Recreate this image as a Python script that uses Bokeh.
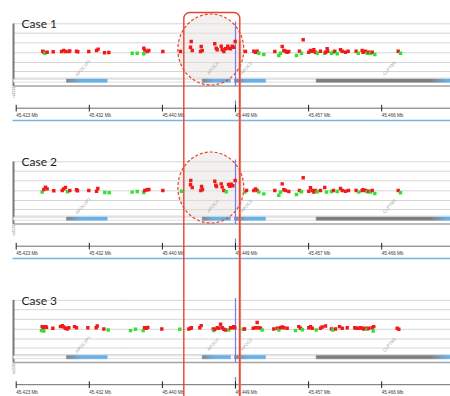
import numpy as np
from bokeh.plotting import figure
from bokeh.models import Range1d, ColumnDataSource
from bokeh.core.properties import value
from bokeh.embed import file_html
from bokeh.resources import INLINE

# ---------------- data ----------------
case_titles = ["Case 1", "Case 2", "Case 3"]

tick_pos = [45.4230, 45.4315, 45.4400, 45.4485, 45.4570, 45.4655]
tick_labels = ["45.423 Mb", "45.432 Mb", "45.440 Mb", "45.449 Mb", "45.457 Mb", "45.466 Mb"]

gene_names = ["APOC1P1", "APOC4", "APOC2", "CLPTM1", ""]
gene_start = [45.42885, 45.44463, 45.44839, 45.45788, 45.47141]
gene_end = [45.43358, 45.44792, 45.45199, 45.47141, 45.48000]
gene_kind = ["blue", "blue", "blue", "gray", "blue"]
gene_label_x = [45.43077, 45.44588, 45.44978, 45.46641, None]

highlight_region = [45.44249, 45.44900]
cursor_pos = 45.4485
focus_center = 45.44563
focus_span = 0.00767

case1_pos = [45.42609, 45.42621, 45.42633, 45.42660, 45.42730, 45.42827, 45.42853, 45.42873, 45.42912, 45.42923,
             45.43001, 45.43016, 45.43144, 45.43234, 45.43253, 45.43327, 45.43377, 45.43649, 45.43707, 45.43784,
             45.43784, 45.43795, 45.43823, 45.43842, 45.44005, 45.44210, 45.44335, 45.44327, 45.44347, 45.44451,
             45.44463, 45.44443, 45.44609, 45.44626, 45.44637, 45.44684, 45.44695, 45.44714, 45.44734, 45.44760,
             45.44772, 45.44792, 45.44812, 45.44830, 45.44846, 45.44966, 45.45063, 45.45083, 45.45102, 45.45121,
             45.45179, 45.45307, 45.45354, 45.45373, 45.45393, 45.45412, 45.45431, 45.45451, 45.45470, 45.45559,
             45.45594, 45.45617, 45.45637, 45.45702, 45.45722, 45.45742, 45.45761, 45.45780, 45.45800, 45.45838,
             45.45888, 45.45897, 45.45916, 45.45923, 45.45966, 45.45986, 45.46005, 45.46033, 45.46071, 45.46091,
             45.46129, 45.46160, 45.46253, 45.46277, 45.46323, 45.46335, 45.46362, 45.46381, 45.46400, 45.46420,
             45.46440, 45.46470, 45.46742, 45.46769]
case1_score = [3.16, 3.06, 2.96, 3.06, 3.10, 3.13, 3.23, 3.13, 3.13, 3.20,
               3.16, 3.10, 3.13, 3.23, 3.37, 3.00, 3.03, 2.96, 2.96, 2.90,
               3.47, 3.27, 3.13, 3.23, 3.13, 3.13, 4.15, 3.57, 3.23, 3.64,
               3.23, 3.13, 3.92, 3.47, 3.31, 3.67, 3.31, 3.13, 3.41, 3.67,
               3.47, 3.41, 3.67, 3.57, 4.15, 3.13, 3.16, 3.06, 3.16, 2.96,
               2.83, 3.13, 2.72, 2.96, 3.64, 3.23, 3.16, 3.06, 3.13, 2.72,
               3.16, 2.96, 4.33, 3.06, 3.23, 3.16, 3.31, 3.06, 2.96, 3.16,
               2.96, 3.06, 3.41, 3.16, 2.96, 3.06, 3.16, 2.90, 3.31, 3.16,
               3.06, 3.16, 3.16, 2.96, 3.23, 3.06, 3.16, 2.96, 3.06, 2.96,
               3.06, 2.83, 3.16, 2.96]
case1_allele = ("RRGRRRRRRR" "RRRRRRRGGG" "RRRRRRRRRR" "RRRRRRRRRR"
                "RRRRRRRRRG" "GRGGRRRRRG" "RGRRRRRRGR" "GRRRGGRGRR"
                "RRRGRRRGRG" "RGRG")

case2_pos = [45.42602, 45.42621, 45.42641, 45.42660, 45.42737, 45.42835, 45.42853, 45.42873, 45.42897, 45.42923,
             45.43001, 45.43013, 45.43144, 45.43234, 45.43249, 45.43330, 45.43381, 45.43649, 45.43707, 45.43784,
             45.43795, 45.43823, 45.43842, 45.44005, 45.44222, 45.44330, 45.44327, 45.44347, 45.44455, 45.44466,
             45.44447, 45.44609, 45.44621, 45.44629, 45.44684, 45.44695, 45.44714, 45.44742, 45.44769, 45.44784,
             45.44800, 45.44819, 45.44846, 45.44958, 45.44978, 45.45063, 45.45083, 45.45102, 45.45121, 45.45179,
             45.45307, 45.45354, 45.45373, 45.45393, 45.45412, 45.45431, 45.45470, 45.45559, 45.45594, 45.45617,
             45.45637, 45.45702, 45.45722, 45.45742, 45.45761, 45.45780, 45.45800, 45.45838, 45.45888, 45.45908,
             45.45966, 45.45990, 45.46033, 45.46071, 45.46091, 45.46129, 45.46164, 45.46253, 45.46284, 45.46323,
             45.46335, 45.46362, 45.46381, 45.46400, 45.46420, 45.46440, 45.46470, 45.46742, 45.46769]
case2_score = [2.86, 3.13, 3.37, 3.20, 3.00, 3.03, 3.20, 3.34, 2.90, 3.03,
               3.10, 3.00, 3.03, 2.96, 3.23, 2.83, 2.80, 2.86, 2.93, 2.83,
               3.03, 3.10, 3.13, 3.03, 2.96, 4.05, 3.61, 3.34, 3.44, 3.13,
               3.03, 3.98, 3.57, 3.44, 3.71, 3.37, 3.03, 2.90, 3.64, 3.47,
               3.67, 3.51, 4.05, 2.86, 3.03, 3.03, 3.20, 3.03, 2.86, 2.69,
               3.03, 2.54, 2.86, 3.71, 3.10, 3.03, 2.93, 2.62, 3.03, 2.90,
               4.33, 2.96, 3.31, 3.03, 2.86, 3.03, 2.90, 3.03, 3.34, 2.86,
               2.93, 3.03, 2.93, 3.23, 3.03, 2.96, 3.03, 3.03, 2.86, 3.03,
               3.10, 3.03, 2.90, 2.96, 2.86, 3.03, 2.73, 3.03, 2.80]
case2_allele = ("GRRRRRRRGR" "RRRRRGGGGG" "RRRRGRRRRR" "RRRRRRRGRR"
                "RRRGRRRRGG" "RGGRRRRGRG" "RRRRRRGRRG" "GRGRRRRRGR"
                "RRGRGRGRG")

case3_pos = [45.42594, 45.42602, 45.42614, 45.42621, 45.42641, 45.42652, 45.42726, 45.42815, 45.42835, 45.42853,
             45.42873, 45.42893, 45.42912, 45.42978, 45.43001, 45.43133, 45.43230, 45.43242, 45.43319, 45.43370,
             45.43629, 45.43687, 45.43777, 45.43792, 45.43812, 45.43830, 45.43993, 45.44202, 45.44307, 45.44327,
             45.44338, 45.44435, 45.44451, 45.44591, 45.44598, 45.44609, 45.44637, 45.44656, 45.44676, 45.44695,
             45.44714, 45.44734, 45.44772, 45.44792, 45.44812, 45.44830, 45.44842, 45.44940, 45.44955, 45.45056,
             45.45083, 45.45102, 45.45121, 45.45141, 45.45160, 45.45295, 45.45335, 45.45354, 45.45373, 45.45393,
             45.45412, 45.45451, 45.45548, 45.45586, 45.45606, 45.45626, 45.45702, 45.45722, 45.45742, 45.45788,
             45.45838, 45.45858, 45.45897, 45.45966, 45.45981, 45.46013, 45.46059, 45.46091, 45.46149, 45.46237,
             45.46253, 45.46277, 45.46304, 45.46323, 45.46342, 45.46362, 45.46381, 45.46400, 45.46440, 45.46458,
             45.46451, 45.46730, 45.46749]
case3_score = [2.86, 3.27, 3.16, 2.83, 3.27, 3.20, 3.10, 3.27, 3.37, 3.23,
               3.10, 3.03, 3.16, 3.27, 3.16, 3.16, 3.16, 3.34, 3.03, 2.93,
               2.86, 3.00, 2.86, 3.16, 3.10, 3.20, 3.03, 3.00, 3.03, 3.10,
               3.16, 3.16, 3.37, 3.03, 2.86, 3.00, 3.16, 3.10, 3.51, 3.16,
               3.00, 2.93, 2.93, 3.16, 3.16, 3.27, 3.16, 3.00, 3.03, 3.10,
               3.16, 3.69, 3.16, 3.10, 2.93, 3.03, 3.10, 2.93, 3.16, 3.23,
               3.16, 3.10, 2.86, 3.27, 3.10, 2.96, 3.16, 3.27, 3.10, 2.93,
               3.10, 3.23, 3.34, 3.03, 2.93, 3.03, 3.27, 3.10, 3.16, 3.16,
               3.10, 3.10, 3.16, 3.10, 3.03, 3.10, 3.00, 3.10, 3.16, 3.27,
               2.83, 3.10, 3.00]
case3_allele = ("GRRGRRRRRR" "RRRRRRRRRG" "GGGRRRRGRR" "RRRRGRRRRR"
                "RRGRRRRGRR" "RRRRGRRGRR" "RRGRRGRRRG" "RRRRGRRRRR"
                "RRRRRRGRRR" "GRR")

cases = [(case1_pos, case1_score, case1_allele),
         (case2_pos, case2_score, case2_allele),
         (case3_pos, case3_score, case3_allele)]

ALLELE_COLOR = {"R": "#f01a1a", "G": "#2fe22f"}

# ---------------- layout helpers ----------------
W, H = 450, 396
PX_PER_KB = 8.6
TICK0_PX = 15.7


def mx(px):
    """horizontal layout position (screen px) -> Mb"""
    return tick_pos[0] + (px - TICK0_PX) / (PX_PER_KB * 1000)


PX = 9.8                       # px per score unit
BASELINE = 52.3                # local px of score 3
BASE = [0.0, 138.0, 276.5]     # vertical offset of each panel
REF_TOP, REF_BOT = 0.0, float(H)


def sc(local_px):
    return 3 + (BASELINE - local_px) / PX


def mix(c1, c2, t):
    a = [int(c1[i:i + 2], 16) for i in (1, 3, 5)]
    b = [int(c2[i:i + 2], 16) for i in (1, 3, 5)]
    return "#%02x%02x%02x" % tuple(int(round(a[i] + (b[i] - a[i]) * t)) for i in range(3))


p = figure(width=W, height=H,
           x_range=Range1d(mx(0), mx(W)),
           y_range=Range1d(REF_BOT, REF_TOP),
           x_axis_type=None, y_axis_type=None,
           toolbar_location=None, output_backend="svg",
           min_border=0, outline_line_color=None,
           background_fill_color="white", border_fill_color="white")

p.extra_y_ranges = {
    f"c{k}": Range1d(3 + (BASE[k] + BASELINE - REF_BOT) / PX, 3 + (BASE[k] + BASELINE - REF_TOP) / PX)
    for k in range(3)
}

LEFT = mx(13)
RIGHT = mx(460)
GRID_LOCAL = [23.3, 32.7, 42.3, 52.3, 62.0, 71.0, 77.6]

for k, (title, (pos, score, allele)) in enumerate(zip(case_titles, cases)):
    rn = f"c{k}"
    # gridlines
    gy = [sc(v) for v in GRID_LOCAL]
    p.segment(x0=[LEFT] * len(gy), y0=gy, x1=[RIGHT] * len(gy), y1=gy,
              line_color="#ababab", line_width=1, line_dash="1 1", y_range_name=rn)

    # focus circle fill
    if k < 2:
        p.ellipse(x=[focus_center], y=[BASE[k] + 49], width=focus_span, height=71,
                  fill_color="#e6e3e0", fill_alpha=0.5, line_color=None)

    # track frame
    p.segment(x0=[LEFT], y0=[sc(23)], x1=[LEFT], y1=[sc(85.5)],
              line_color="#7a7a7a", line_width=2, y_range_name=rn)
    p.segment(x0=[LEFT], y0=[sc(85.5)], x1=[RIGHT], y1=[sc(85.5)],
              line_color="#a3a3a3", line_width=1.5, y_range_name=rn)

    # gene lane outline
    p.quad(left=[LEFT], right=[RIGHT], top=[sc(78.8)], bottom=[sc(81.6)],
           fill_color="white", line_color="#d4d4d4", line_width=0.8, y_range_name=rn)

    # gene bars
    for s, e, kind in zip(gene_start, gene_end, gene_kind):
        if kind == "gray":
            p.quad(left=[s], right=[e], top=[sc(78.6)], bottom=[sc(81.8)],
                   fill_color="#7e7e7e", line_color="#7e7e7e", line_width=0.5, y_range_name=rn)
        else:
            L = e - s
            fade = min(0.4 * L, 14 / (PX_PER_KB * 1000))
            steps = 7
            lefts = [s + fade * i / steps for i in range(steps)] + [s + fade]
            rights = [s + fade * (i + 1) / steps for i in range(steps)] + [e]
            cols = [mix("#7c8692", "#66b1e8", i / steps) for i in range(steps)] + ["#66b1e8"]
            p.quad(left=lefts, right=rights, top=[sc(78.6)] * len(lefts), bottom=[sc(81.8)] * len(lefts),
                   fill_color=cols, line_color=cols, line_width=0.5, y_range_name=rn)

    # gene labels
    lab = [(gx, g) for gx, g in zip(gene_label_x, gene_names) if gx is not None]
    p.text(x=[a for a, _ in lab], y=[sc(67.5)] * len(lab), text=[b for _, b in lab],
           angle=0.85, text_font=value("Liberation Sans"), text_font_size=value("4.5px"),
           text_color="#a4a4a4", text_align="center", text_baseline="middle", y_range_name=rn)

    # cursor
    p.segment(x0=[cursor_pos, cursor_pos], y0=[sc(21), sc(100)], x1=[cursor_pos, cursor_pos], y1=[sc(85.5), sc(112)],
              line_color="#7a7af0", line_width=1.2, y_range_name=rn)

    # SNP points
    src = ColumnDataSource(dict(x=pos, y=score, c=[ALLELE_COLOR[a] for a in allele]))
    p.scatter(x="x", y="y", source=src, marker="square", size=3.4,
              fill_color="c", line_color=None, y_range_name=rn)

    # focus circle outline
    if k < 2:
        p.ellipse(x=[focus_center], y=[BASE[k] + 49], width=focus_span, height=71,
                  fill_color=None, line_color="#e8412c", line_width=1.2, line_dash="3 2")

    # ruler
    p.segment(x0=[tick_pos[0]], y0=[sc(107.7)], x1=[RIGHT], y1=[sc(107.7)],
              line_color="#6a6a6a", line_width=1, y_range_name=rn)
    p.segment(x0=tick_pos, y0=[sc(104.3)] * len(tick_pos), x1=tick_pos, y1=[sc(111)] * len(tick_pos),
              line_color="#222222", line_width=1, y_range_name=rn)
    p.text(x=tick_pos, y=[sc(115.3)] * len(tick_pos), text=tick_labels,
           text_font=value("Liberation Sans"), text_font_size=value("4.6px"),
           text_color="#3a3a3a", text_align="left", text_baseline="middle", y_range_name=rn)
    p.segment(x0=[mx(12)], y0=[sc(120)], x1=[RIGHT], y1=[sc(120)],
              line_color="#74b6e2", line_width=1.6, y_range_name=rn)

    # track label
    p.text(x=[mx(13)], y=[sc(91.5)], text=["rs1532"], angle=np.pi / 2,
           text_font=value("Liberation Sans"), text_font_size=value("3.6px"),
           text_color="#666666", text_align="center", text_baseline="middle", y_range_name=rn)

    # title
    p.text(x=[mx(21)], y=[sc(23.3)], text=[title],
           text_font=value("Lato"), text_font_size=value("12px"),
           text_color="#1e1e1e", text_align="left", text_baseline="alphabetic", y_range_name=rn)

# ---------------- red highlight box ----------------
left, right = highlight_region
top = 12.0
r_px = 6.0
rx = r_px / (PX_PER_KB * 1000)
ry = r_px
t = np.linspace(0, np.pi / 2, 12)
xs = [left, left] + list(left + rx - rx * np.cos(t)) + list(right - rx + rx * np.sin(t)) + [right, right]
ys = [H + 6, top + ry] + list(top + ry - ry * np.sin(t)) + list(top + ry - ry * np.cos(t)) + [top + ry, H + 6]
p.segment(x0=[right], y0=[40], x1=[right], y1=[H + 6], line_color="#f08a7a", line_width=2.6, line_alpha=0.7)
p.line(x=xs, y=ys, line_color="#e8402c", line_width=1.4)

open("out.html", "w").write(file_html(p, INLINE))
